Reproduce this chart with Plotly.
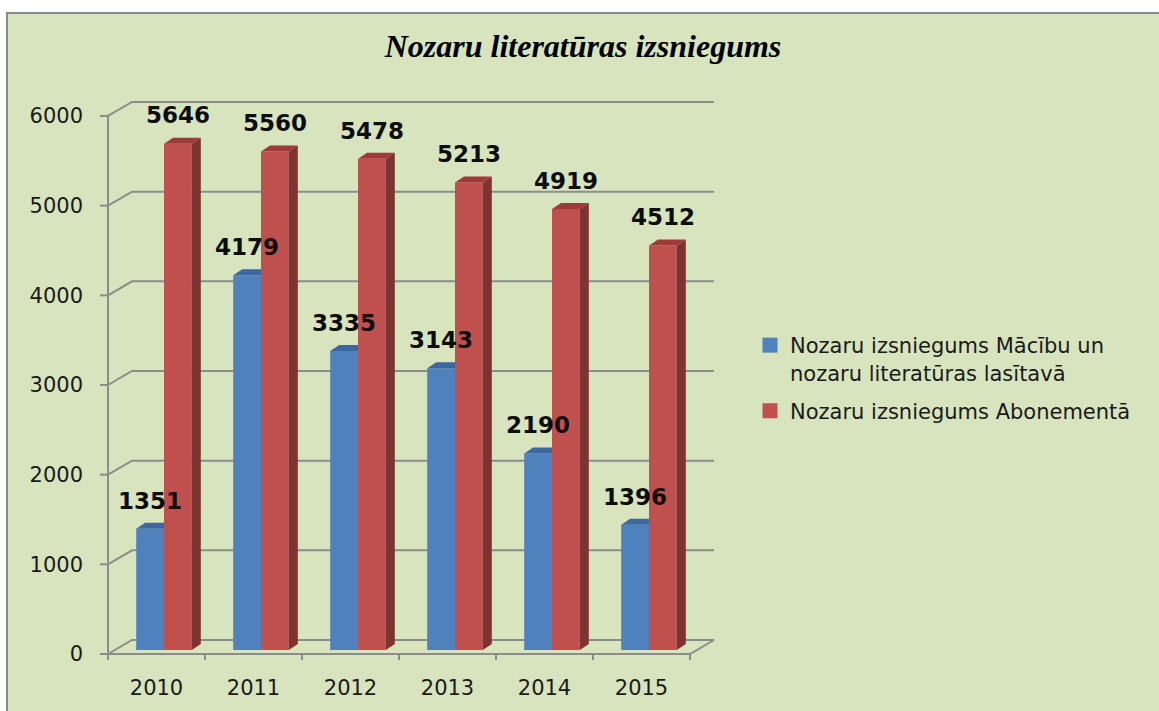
import plotly.graph_objects as go

# ---------------- data ----------------
years = ["2010", "2011", "2012", "2013", "2014", "2015"]
lasitava = [1351, 4179, 3335, 3143, 2190, 1396]
abonements = [5646, 5560, 5478, 5213, 4919, 4512]
series_names = [
    "Nozaru izsniegums Mācību un<br>nozaru literatūras lasītavā",
    "Nozaru izsniegums Abonementā",
]
y_ticks = [0, 1000, 2000, 3000, 4000, 5000, 6000]
title_text = "Nozaru literatūras izsniegums"

# ---------------- geometry (pixels) ----------------
W, H = 1159, 711
PL, PR, PT, PB = 96, 728, 86, 668          # plot area edges
AX_X, AX_Y = 108, 654                        # front axes position
CAT_W = 97.0                                 # pixels per category
PPU = 0.08967                                # pixels per value unit
WX, WY = 24, 14                              # wall depth
BX, BY = 9, 6                                # bar depth
BAR_W = 27.8
BLUE_OFF, RED_OFF = -6.4, 21.4               # bar centres rel. to category centre (px)

x0_front = -0.5
x_range = [x0_front - (AX_X - PL) / CAT_W, x0_front + (PR - AX_X) / CAT_W]
y_range = [-(PB - AX_Y) / PPU, (AX_Y - PT) / PPU]


def dx(p):
    return p / CAT_W


def dy(p):
    return p / PPU


def px_x(p):
    return (p - PL) / (PR - PL)


def px_y(p):
    return (PB - p) / (PB - PT)


n = len(years)
idx = list(range(n))
b0 = dy(4)

GRID = "#8C8C8C"
BLUE, BLUE_TOP = "#4F81BD", "#3C67A0"
RED, RED_TOP, RED_SIDE = "#C0504D", "#9E3B39", "#7D3331"
BG = "#D7E4BD"

fig = go.Figure()

# back wall gridlines with side diagonals
gx, gy = [], []
x_back_end = x0_front + n + dx(WX)
for v in y_ticks:
    gx += [x0_front, x0_front + dx(WX), x_back_end, None]
    gy += [v, v + dy(WY), v + dy(WY), None]
fig.add_trace(go.Scatter(x=gx, y=gy, mode="lines", line=dict(color=GRID, width=2),
                         hoverinfo="skip", showlegend=False, zorder=0))

# front axes, floor edge and tick marks
ax_x = [x0_front, x0_front, None, x0_front, x0_front + n, x0_front + n + dx(WX), None]
ax_y = [y_ticks[0], y_ticks[-1], None, 0, 0, dy(WY), None]
for v in y_ticks:
    ax_x += [x0_front - dx(8), x0_front, None]
    ax_y += [v, v, None]
for k in range(n + 1):
    ax_x += [x0_front + k, x0_front + k, None]
    ax_y += [0, -dy(6), None]
fig.add_trace(go.Scatter(x=ax_x, y=ax_y, mode="lines", line=dict(color=GRID, width=2),
                         hoverinfo="skip", showlegend=False, zorder=0))


def faces(centers, vals):
    tx, ty, sx, sy = [], [], [], []
    hw = dx(BAR_W) / 2
    for c, v in zip(centers, vals):
        xl, xr = c - hw, c + hw
        top = v + b0
        tx += [xl, xr, xr + dx(BX), xl + dx(BX), xl, None]
        ty += [top, top, top + dy(BY), top + dy(BY), top, None]
        sx += [xr, xr + dx(BX), xr + dx(BX), xr, xr, None]
        sy += [b0, b0 + dy(BY), top + dy(BY), top, b0, None]
    return tx, ty, sx, sy


blue_c = [i + dx(BLUE_OFF) for i in idx]
red_c = [i + dx(RED_OFF) for i in idx]

# blue bars
fig.add_trace(go.Bar(x=blue_c, y=lasitava, base=b0, width=dx(BAR_W),
                     marker=dict(color=BLUE, line=dict(width=0)),
                     showlegend=False, hoverinfo="skip", zorder=1))
tx, ty, sx, sy = faces(blue_c, lasitava)
fig.add_trace(go.Scatter(x=sx, y=sy, mode="lines", fill="toself", fillcolor=BLUE_TOP,
                         line=dict(width=0), hoverinfo="skip", showlegend=False, zorder=2))
fig.add_trace(go.Scatter(x=tx, y=ty, mode="lines", fill="toself", fillcolor=BLUE_TOP,
                         line=dict(width=0), hoverinfo="skip", showlegend=False, zorder=2))

# red bars
fig.add_trace(go.Bar(x=red_c, y=abonements, base=b0, width=dx(BAR_W),
                     marker=dict(color=RED, line=dict(width=0)),
                     showlegend=False, hoverinfo="skip", zorder=3))
tx, ty, sx, sy = faces(red_c, abonements)
fig.add_trace(go.Scatter(x=sx, y=sy, mode="lines", fill="toself", fillcolor=RED_SIDE,
                         line=dict(width=0), hoverinfo="skip", showlegend=False, zorder=4))
fig.add_trace(go.Scatter(x=tx, y=ty, mode="lines", fill="toself", fillcolor=RED_TOP,
                         line=dict(width=0), hoverinfo="skip", showlegend=False, zorder=4))

# data labels
lab_font = dict(family="DejaVu Sans", size=23, color="#0D0D0D", weight="bold")
for cs, vals in ((blue_c, lasitava), (red_c, abonements)):
    fig.add_trace(go.Scatter(x=cs, y=[v + b0 + dy(26) for v in vals], mode="text",
                             text=[str(v) for v in vals], textposition="middle center",
                             textfont=lab_font, cliponaxis=False, hoverinfo="skip",
                             showlegend=False, zorder=5))

# legend entries
for k, (name, col) in enumerate(zip(series_names, (BLUE, RED))):
    fig.add_trace(go.Scatter(x=[None], y=[None], mode="markers", name=name,
                             legendgroup="g%d" % k,
                             marker=dict(symbol="square", size=15, color=col),
                             showlegend=True))

tick_font = dict(family="DejaVu Sans", size=21, color="#1A1A1A")

fig.update_layout(
    width=W, height=H,
    margin=dict(l=PL, r=W - PR, t=PT, b=H - PB, pad=0),
    paper_bgcolor="white",
    plot_bgcolor="rgba(0,0,0,0)",
    barmode="overlay",
    hovermode=False,
    title=dict(text=title_text, x=583 / W, xref="container", xanchor="center",
               y=1 - 46 / H, yref="container", yanchor="middle",
               font=dict(family="Liberation Serif", size=32, color="black",
                         weight="bold", style="italic")),
    xaxis=dict(range=x_range, tickvals=idx, ticktext=years, showgrid=False,
               zeroline=False, showline=False, ticks="", tickfont=tick_font,
               ticklabelstandoff=5, fixedrange=True),
    yaxis=dict(range=y_range, tickvals=y_ticks, showgrid=False, zeroline=False,
               showline=False, ticks="", tickfont=tick_font, ticklabelstandoff=12,
               fixedrange=True),
    legend=dict(x=px_x(750), xanchor="left", y=px_y(325), yanchor="top",
                font=dict(family="DejaVu Sans", size=21, color="#1A1A1A"),
                bgcolor="rgba(0,0,0,0)", valign="top", itemwidth=30,
                traceorder="grouped", tracegroupgap=8),
    shapes=[dict(type="rect", xref="paper", yref="paper",
                 x0=px_x(7), x1=px_x(W + 10), y0=px_y(13), y1=px_y(H + 10),
                 fillcolor=BG, line=dict(color="#8A8A8A", width=2), layer="below")],
)

fig.write_html("out.html", config={"displayModeBar": False},
               post_script="document.body.style.margin='0';")
